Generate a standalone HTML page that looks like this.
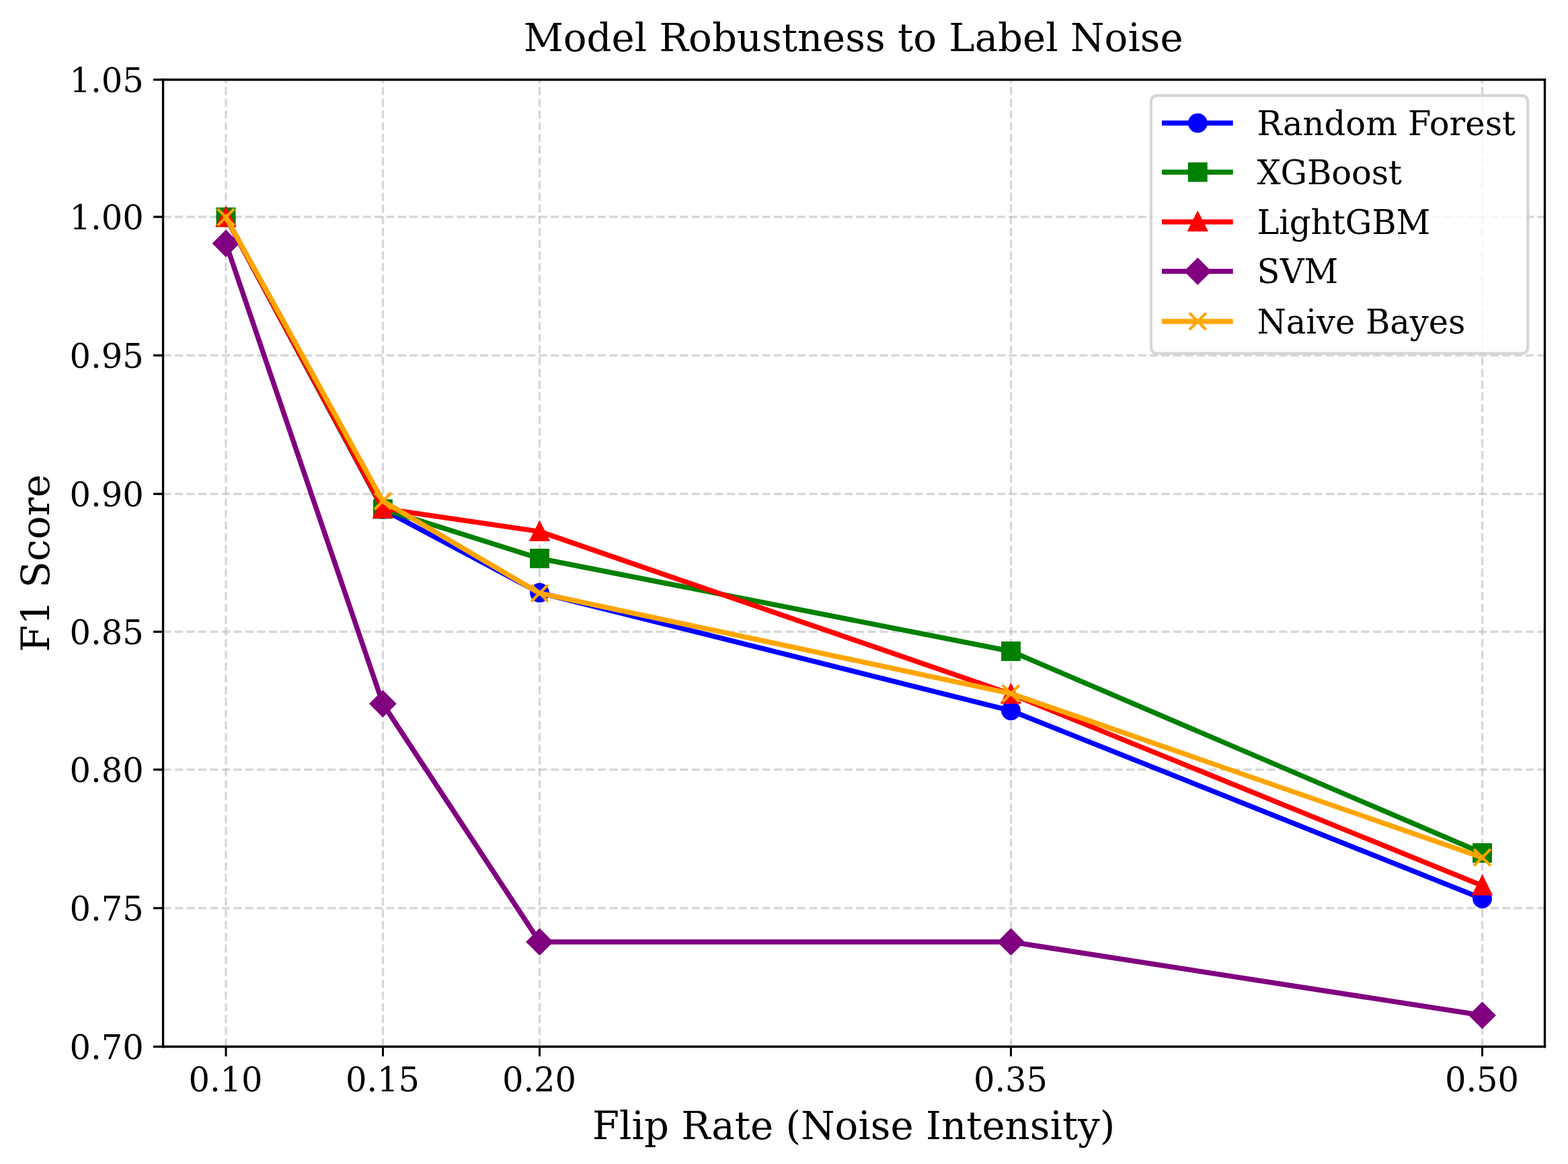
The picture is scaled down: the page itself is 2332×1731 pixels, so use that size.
<!DOCTYPE html>
<html lang="en"><head><meta charset="utf-8"><title>Model Robustness to Label Noise</title>
<style>html,body{margin:0;padding:0;background:#fff}body{width:2332px;height:1731px;overflow:hidden}svg{display:block}</style>
</head><body>
<svg width="2332" height="1731" viewBox="0 0 2332 1731">
<defs><clipPath id="ax"><rect x="242.5" y="118.5" width="2055" height="1438"/></clipPath></defs>
<rect x="0" y="0" width="2332" height="1731" fill="#ffffff"/>
<g clip-path="url(#ax)">
<path d="M 336 1556.5 L 336 118.5" style="fill:none;stroke:#b0b0b0;stroke-opacity:0.5;stroke-width:3.333;stroke-dasharray:12.196,5.274;stroke-dashoffset:0"/>
<path d="M 569.5 1556.5 L 569.5 118.5" style="fill:none;stroke:#b0b0b0;stroke-opacity:0.5;stroke-width:3.333;stroke-dasharray:12.196,5.274;stroke-dashoffset:0"/>
<path d="M 802.5 1556.5 L 802.5 118.5" style="fill:none;stroke:#b0b0b0;stroke-opacity:0.5;stroke-width:3.333;stroke-dasharray:12.196,5.274;stroke-dashoffset:0"/>
<path d="M 1503.5 1556.5 L 1503.5 118.5" style="fill:none;stroke:#b0b0b0;stroke-opacity:0.5;stroke-width:3.333;stroke-dasharray:12.196,5.274;stroke-dashoffset:0"/>
<path d="M 2204.5 1556.5 L 2204.5 118.5" style="fill:none;stroke:#b0b0b0;stroke-opacity:0.5;stroke-width:3.333;stroke-dasharray:12.196,5.274;stroke-dashoffset:0"/>
<path d="M 242.5 118.5 L 2297.5 118.5" style="fill:none;stroke:#b0b0b0;stroke-opacity:0.5;stroke-width:3.333;stroke-dasharray:12.196,5.274;stroke-dashoffset:0"/>
<path d="M 242.5 322.5 L 2297.5 322.5" style="fill:none;stroke:#b0b0b0;stroke-opacity:0.5;stroke-width:3.333;stroke-dasharray:12.196,5.274;stroke-dashoffset:0"/>
<path d="M 242.5 528.5 L 2297.5 528.5" style="fill:none;stroke:#b0b0b0;stroke-opacity:0.5;stroke-width:3.333;stroke-dasharray:12.196,5.274;stroke-dashoffset:0"/>
<path d="M 242.5 734.5 L 2297.5 734.5" style="fill:none;stroke:#b0b0b0;stroke-opacity:0.5;stroke-width:3.333;stroke-dasharray:12.196,5.274;stroke-dashoffset:0"/>
<path d="M 242.5 939.5 L 2297.5 939.5" style="fill:none;stroke:#b0b0b0;stroke-opacity:0.5;stroke-width:3.333;stroke-dasharray:12.196,5.274;stroke-dashoffset:0"/>
<path d="M 242.5 1144.5 L 2297.5 1144.5" style="fill:none;stroke:#b0b0b0;stroke-opacity:0.5;stroke-width:3.333;stroke-dasharray:12.196,5.274;stroke-dashoffset:0"/>
<path d="M 242.5 1350.5 L 2297.5 1350.5" style="fill:none;stroke:#b0b0b0;stroke-opacity:0.5;stroke-width:3.333;stroke-dasharray:12.196,5.274;stroke-dashoffset:0"/>
<path d="M 242.5 1556.5 L 2297.5 1556.5" style="fill:none;stroke:#b0b0b0;stroke-opacity:0.5;stroke-width:3.333;stroke-dasharray:12.196,5.274;stroke-dashoffset:0"/>
</g>
<path d="M 336 1556.5 L 336 1570.938" style="stroke:#000;stroke-width:3"/>
<path d="M 569.5 1556.5 L 569.5 1570.938" style="stroke:#000;stroke-width:3"/>
<path d="M 802.5 1556.5 L 802.5 1570.938" style="stroke:#000;stroke-width:3"/>
<path d="M 1503.5 1556.5 L 1503.5 1570.938" style="stroke:#000;stroke-width:3"/>
<path d="M 2204.5 1556.5 L 2204.5 1570.938" style="stroke:#000;stroke-width:3"/>
<path d="M 242.5 118.5 L 228.062 118.5" style="stroke:#000;stroke-width:3.333"/>
<path d="M 242.5 322.5 L 228.062 322.5" style="stroke:#000;stroke-width:3.333"/>
<path d="M 242.5 528.5 L 228.062 528.5" style="stroke:#000;stroke-width:3.333"/>
<path d="M 242.5 734.5 L 228.062 734.5" style="stroke:#000;stroke-width:3.333"/>
<path d="M 242.5 939.5 L 228.062 939.5" style="stroke:#000;stroke-width:3.333"/>
<path d="M 242.5 1144.5 L 228.062 1144.5" style="stroke:#000;stroke-width:3.333"/>
<path d="M 242.5 1350.5 L 228.062 1350.5" style="stroke:#000;stroke-width:3.333"/>
<path d="M 242.5 1556.5 L 228.062 1556.5" style="stroke:#000;stroke-width:3.333"/>
<text x="335.5" y="1622.5" style="font-size:49.5px;font-family:'DejaVu Serif','Liberation Serif',serif;text-anchor:middle">0.10</text>
<text x="569" y="1622.5" style="font-size:49.5px;font-family:'DejaVu Serif','Liberation Serif',serif;text-anchor:middle">0.15</text>
<text x="802" y="1622.5" style="font-size:49.5px;font-family:'DejaVu Serif','Liberation Serif',serif;text-anchor:middle">0.20</text>
<text x="1503" y="1622.5" style="font-size:49.5px;font-family:'DejaVu Serif','Liberation Serif',serif;text-anchor:middle">0.35</text>
<text x="2204" y="1622.5" style="font-size:49.5px;font-family:'DejaVu Serif','Liberation Serif',serif;text-anchor:middle">0.50</text>
<text x="213.8" y="137.496" style="font-size:49.5px;font-family:'DejaVu Serif','Liberation Serif',serif;text-anchor:end">1.05</text>
<text x="213.8" y="341.496" style="font-size:49.5px;font-family:'DejaVu Serif','Liberation Serif',serif;text-anchor:end">1.00</text>
<text x="213.8" y="547.496" style="font-size:49.5px;font-family:'DejaVu Serif','Liberation Serif',serif;text-anchor:end">0.95</text>
<text x="213.8" y="753.496" style="font-size:49.5px;font-family:'DejaVu Serif','Liberation Serif',serif;text-anchor:end">0.90</text>
<text x="213.8" y="958.496" style="font-size:49.5px;font-family:'DejaVu Serif','Liberation Serif',serif;text-anchor:end">0.85</text>
<text x="213.8" y="1163.496" style="font-size:49.5px;font-family:'DejaVu Serif','Liberation Serif',serif;text-anchor:end">0.80</text>
<text x="213.8" y="1369.496" style="font-size:49.5px;font-family:'DejaVu Serif','Liberation Serif',serif;text-anchor:end">0.75</text>
<text x="213.8" y="1575.496" style="font-size:49.5px;font-family:'DejaVu Serif','Liberation Serif',serif;text-anchor:end">0.70</text>
<g clip-path="url(#ax)">
<path d="M 336 323 L 569.4 757.5 L 802.5 881.5 L 1503.5 1056.8 L 2204.5 1336.3" style="fill:none;stroke:#0000ff;stroke-width:7.5;stroke-linecap:square;stroke-linejoin:round"/>
<circle cx="336" cy="323" r="12.375" style="fill:#0000ff;stroke:#0000ff;stroke-width:4.125"/>
<circle cx="569.4" cy="757.5" r="12.375" style="fill:#0000ff;stroke:#0000ff;stroke-width:4.125"/>
<circle cx="802.5" cy="881.5" r="12.375" style="fill:#0000ff;stroke:#0000ff;stroke-width:4.125"/>
<circle cx="1503.5" cy="1056.8" r="12.375" style="fill:#0000ff;stroke:#0000ff;stroke-width:4.125"/>
<circle cx="2204.5" cy="1336.3" r="12.375" style="fill:#0000ff;stroke:#0000ff;stroke-width:4.125"/>
<path d="M 336 323 L 569.4 757 L 802.5 830.5 L 1503.5 968.5 L 2204.5 1268.5" style="fill:none;stroke:#008000;stroke-width:7.5;stroke-linecap:square;stroke-linejoin:round"/>
<path d="M 323.625 335.375 L 348.375 335.375 L 348.375 310.625 L 323.625 310.625 Z" style="fill:#008000;stroke:#008000;stroke-width:4.125;stroke-linejoin:miter"/>
<path d="M 557.025 769.375 L 581.775 769.375 L 581.775 744.625 L 557.025 744.625 Z" style="fill:#008000;stroke:#008000;stroke-width:4.125;stroke-linejoin:miter"/>
<path d="M 790.125 842.875 L 814.875 842.875 L 814.875 818.125 L 790.125 818.125 Z" style="fill:#008000;stroke:#008000;stroke-width:4.125;stroke-linejoin:miter"/>
<path d="M 1491.125 980.875 L 1515.875 980.875 L 1515.875 956.125 L 1491.125 956.125 Z" style="fill:#008000;stroke:#008000;stroke-width:4.125;stroke-linejoin:miter"/>
<path d="M 2192.125 1280.875 L 2216.875 1280.875 L 2216.875 1256.125 L 2192.125 1256.125 Z" style="fill:#008000;stroke:#008000;stroke-width:4.125;stroke-linejoin:miter"/>
<path d="M 336 323 L 569.4 756.2 L 802.5 790.4 L 1503.5 1032.1 L 2204.5 1317" style="fill:none;stroke:#ff0000;stroke-width:7.5;stroke-linecap:square;stroke-linejoin:round"/>
<path d="M 336 310.625 L 323.625 335.375 L 348.375 335.375 Z" style="fill:#ff0000;stroke:#ff0000;stroke-width:4.125;stroke-linejoin:miter"/>
<path d="M 569.4 743.825 L 557.025 768.575 L 581.775 768.575 Z" style="fill:#ff0000;stroke:#ff0000;stroke-width:4.125;stroke-linejoin:miter"/>
<path d="M 802.5 778.025 L 790.125 802.775 L 814.875 802.775 Z" style="fill:#ff0000;stroke:#ff0000;stroke-width:4.125;stroke-linejoin:miter"/>
<path d="M 1503.5 1019.725 L 1491.125 1044.475 L 1515.875 1044.475 Z" style="fill:#ff0000;stroke:#ff0000;stroke-width:4.125;stroke-linejoin:miter"/>
<path d="M 2204.5 1304.625 L 2192.125 1329.375 L 2216.875 1329.375 Z" style="fill:#ff0000;stroke:#ff0000;stroke-width:4.125;stroke-linejoin:miter"/>
<path d="M 336 362 L 569.4 1046.6 L 802.5 1400.7 L 1503.5 1400.7 L 2204.5 1509.9" style="fill:none;stroke:#800080;stroke-width:7.5;stroke-linecap:square;stroke-linejoin:round"/>
<path d="M 336 379.501 L 353.501 362 L 336 344.499 L 318.499 362 Z" style="fill:#800080;stroke:#800080;stroke-width:4.125;stroke-linejoin:miter"/>
<path d="M 569.4 1064.101 L 586.901 1046.6 L 569.4 1029.099 L 551.899 1046.6 Z" style="fill:#800080;stroke:#800080;stroke-width:4.125;stroke-linejoin:miter"/>
<path d="M 802.5 1418.201 L 820.001 1400.7 L 802.5 1383.199 L 784.999 1400.7 Z" style="fill:#800080;stroke:#800080;stroke-width:4.125;stroke-linejoin:miter"/>
<path d="M 1503.5 1418.201 L 1521.001 1400.7 L 1503.5 1383.199 L 1485.999 1400.7 Z" style="fill:#800080;stroke:#800080;stroke-width:4.125;stroke-linejoin:miter"/>
<path d="M 2204.5 1527.401 L 2222.001 1509.9 L 2204.5 1492.399 L 2186.999 1509.9 Z" style="fill:#800080;stroke:#800080;stroke-width:4.125;stroke-linejoin:miter"/>
<path d="M 336 323 L 569.4 745.2 L 802.5 882.2 L 1503.5 1031.4 L 2204.5 1275.2" style="fill:none;stroke:#ffa500;stroke-width:7.5;stroke-linecap:square;stroke-linejoin:round"/>
<path d="M 323.625 335.375 L 348.375 310.625 M 323.625 310.625 L 348.375 335.375" style="fill:none;stroke:#ffa500;stroke-width:4.125;stroke-linecap:butt"/>
<path d="M 557.025 757.575 L 581.775 732.825 M 557.025 732.825 L 581.775 757.575" style="fill:none;stroke:#ffa500;stroke-width:4.125;stroke-linecap:butt"/>
<path d="M 790.125 894.575 L 814.875 869.825 M 790.125 869.825 L 814.875 894.575" style="fill:none;stroke:#ffa500;stroke-width:4.125;stroke-linecap:butt"/>
<path d="M 1491.125 1043.775 L 1515.875 1019.025 M 1491.125 1019.025 L 1515.875 1043.775" style="fill:none;stroke:#ffa500;stroke-width:4.125;stroke-linecap:butt"/>
<path d="M 2192.125 1287.575 L 2216.875 1262.825 M 2192.125 1262.825 L 2216.875 1287.575" style="fill:none;stroke:#ffa500;stroke-width:4.125;stroke-linecap:butt"/>
</g>
<path d="M 242.5 1556.5 L 242.5 118.5" style="fill:none;stroke:#000;stroke-width:3.333;stroke-linecap:square;stroke-linejoin:miter"/>
<path d="M 2297.5 1556.5 L 2297.5 118.5" style="fill:none;stroke:#000;stroke-width:3.333;stroke-linecap:square;stroke-linejoin:miter"/>
<path d="M 242.5 1556.5 L 2297.5 1556.5" style="fill:none;stroke:#000;stroke-width:3.333;stroke-linecap:square;stroke-linejoin:miter"/>
<path d="M 242.5 118.5 L 2297.5 118.5" style="fill:none;stroke:#000;stroke-width:3.333;stroke-linecap:square;stroke-linejoin:miter"/>
<text x="1269.2" y="76.43" textLength="981" lengthAdjust="spacing" style="font-size:57.75px;font-family:'DejaVu Serif','Liberation Serif',serif;text-anchor:middle">Model Robustness to Label Noise</text>
<text x="1269.65" y="1693.548" textLength="777.5" lengthAdjust="spacing" style="font-size:57.75px;font-family:'DejaVu Serif','Liberation Serif',serif;text-anchor:middle">Flip Rate (Noise Intensity)</text>
<text x="73.177" y="837.5" transform="rotate(-90 73.177 837.5)" textLength="264.4" lengthAdjust="spacing" style="font-size:57.75px;font-family:'DejaVu Serif','Liberation Serif',serif;text-anchor:middle">F1 Score</text>
<path d="M 1721.9 525.7 L 2262.3 525.7 Q 2272.3 525.7 2272.3 515.7 L 2272.3 152.1 Q 2272.3 142.1 2262.3 142.1 L 1721.9 142.1 Q 1711.9 142.1 1711.9 152.1 L 1711.9 515.7 Q 1711.9 525.7 1721.9 525.7 Z" style="fill:#ffffff;opacity:0.8;stroke:#cccccc;stroke-width:4.167;stroke-linejoin:miter"/>
<path d="M 1731.75 183 L 1829.95 183" style="fill:none;stroke:#0000ff;stroke-width:7.5;stroke-linecap:square"/>
<circle cx="1781.3" cy="183" r="12.375" style="fill:#0000ff;stroke:#0000ff;stroke-width:4.125"/>
<text x="1869.5" y="200.8" textLength="384.5" lengthAdjust="spacing" style="font-size:49.5px;font-family:'DejaVu Serif','Liberation Serif',serif;text-anchor:start">Random Forest</text>
<path d="M 1731.75 256 L 1829.95 256" style="fill:none;stroke:#008000;stroke-width:7.5;stroke-linecap:square"/>
<path d="M 1768.925 268.375 L 1793.675 268.375 L 1793.675 243.625 L 1768.925 243.625 Z" style="fill:#008000;stroke:#008000;stroke-width:4.125;stroke-linejoin:miter"/>
<text x="1869.5" y="273.8" textLength="215.35" lengthAdjust="spacing" style="font-size:49.5px;font-family:'DejaVu Serif','Liberation Serif',serif;text-anchor:start">XGBoost</text>
<path d="M 1731.75 329.9 L 1829.95 329.9" style="fill:none;stroke:#ff0000;stroke-width:7.5;stroke-linecap:square"/>
<path d="M 1781.3 317.525 L 1768.925 342.275 L 1793.675 342.275 Z" style="fill:#ff0000;stroke:#ff0000;stroke-width:4.125;stroke-linejoin:miter"/>
<text x="1869.5" y="347.7" textLength="257.6" lengthAdjust="spacing" style="font-size:49.5px;font-family:'DejaVu Serif','Liberation Serif',serif;text-anchor:start">LightGBM</text>
<path d="M 1731.75 403.4 L 1829.95 403.4" style="fill:none;stroke:#800080;stroke-width:7.5;stroke-linecap:square"/>
<path d="M 1781.3 420.901 L 1798.801 403.4 L 1781.3 385.899 L 1763.799 403.4 Z" style="fill:#800080;stroke:#800080;stroke-width:4.125;stroke-linejoin:miter"/>
<text x="1869.5" y="421.2" textLength="120.8" lengthAdjust="spacing" style="font-size:49.5px;font-family:'DejaVu Serif','Liberation Serif',serif;text-anchor:start">SVM</text>
<path d="M 1731.75 477.9 L 1829.95 477.9" style="fill:none;stroke:#ffa500;stroke-width:7.5;stroke-linecap:square"/>
<path d="M 1768.925 490.275 L 1793.675 465.525 M 1768.925 465.525 L 1793.675 490.275" style="fill:none;stroke:#ffa500;stroke-width:4.125;stroke-linecap:butt"/>
<text x="1869.5" y="495.7" textLength="309.9" lengthAdjust="spacing" style="font-size:49.5px;font-family:'DejaVu Serif','Liberation Serif',serif;text-anchor:start">Naive Bayes</text>
</svg>
</body></html>
